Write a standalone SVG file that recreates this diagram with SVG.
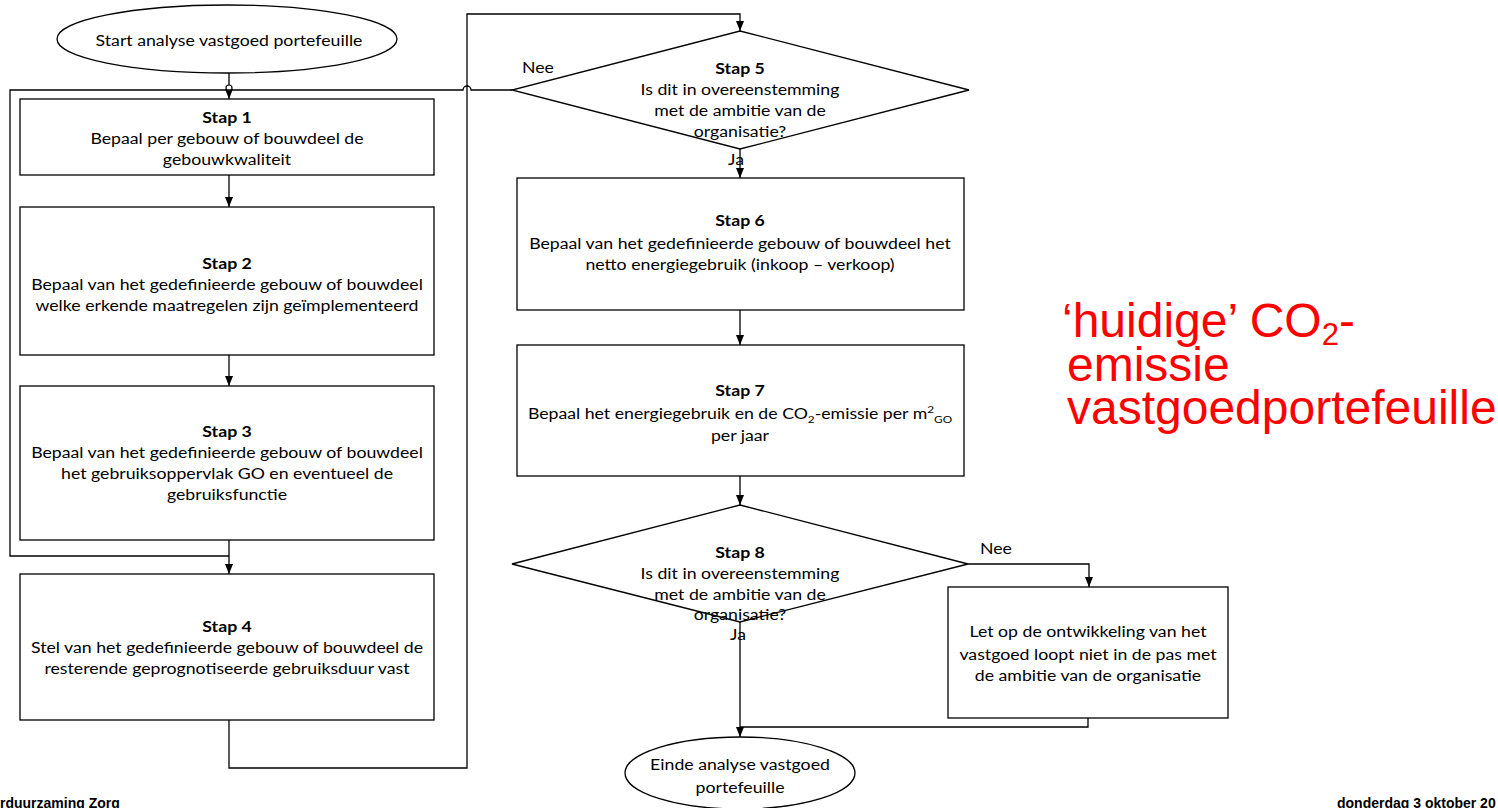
<svg xmlns="http://www.w3.org/2000/svg" width="1498" height="808" viewBox="0 0 1498 808">
<defs>
<marker id="arr" viewBox="0 0 10 10" refX="10" refY="5" markerWidth="10" markerHeight="10" markerUnits="userSpaceOnUse" orient="auto">
<path d="M0,1 L10,5 L0,9 Z" fill="#000"/>
</marker>
<style>
.shape{fill:#fff;stroke:#000;stroke-width:1.3}
.conn{fill:none;stroke:#000;stroke-width:1.3}
.t{font-family:Lato,"Open Sans",sans-serif;font-size:15px;fill:#000;text-anchor:middle}
.b{font-weight:bold}
.red{font-family:"Liberation Sans",Arial,sans-serif;font-size:48px;fill:#ff0000}
.foot{font-family:"Liberation Sans",Arial,sans-serif;font-size:14px;font-weight:bold;fill:#000}
</style>
</defs>
<rect width="1498" height="808" fill="#fff"/>

<g id="connectors">
<path class="conn" d="M229,73 V99" marker-end="url(#arr)"/>
<circle cx="229" cy="88" r="3" fill="#fff" stroke="#000" stroke-width="1.2"/>
<path class="conn" d="M229,175 V207" marker-end="url(#arr)"/>
<path class="conn" d="M229,355 V386" marker-end="url(#arr)"/>
<path class="conn" d="M229,540 V574" marker-end="url(#arr)"/>
<path class="conn" d="M229,720 V768 H467 V14 H740 V31" marker-end="url(#arr)"/>
<path class="conn" d="M512,90 H471 A4,4 0 0 0 463,90 H10 V556 H229"/>
<path class="conn" d="M740,149 V178" marker-end="url(#arr)"/>
<path class="conn" d="M740,310 V345" marker-end="url(#arr)"/>
<path class="conn" d="M740,476 V505" marker-end="url(#arr)"/>
<path class="conn" d="M968,564 H1089 V587" marker-end="url(#arr)"/>
<path class="conn" d="M740,622 V737" marker-end="url(#arr)"/>
<path class="conn" d="M1088,718 V727 H740"/>
<g transform="translate(538,0) scale(1.18,1)"><text class="t" x="0" y="73">Nee</text></g>
<g transform="translate(736,0) scale(1.18,1)"><text class="t" x="0" y="165">Ja</text></g>
<g transform="translate(996,0) scale(1.18,1)"><text class="t" x="0" y="554">Nee</text></g>
<g transform="translate(738,0) scale(1.18,1)"><text class="t" x="0" y="640">Ja</text></g>
</g>

<g id="start">
<ellipse class="shape" cx="227" cy="39" rx="170" ry="34"/>
<g transform="translate(229,0) scale(1.18,1)"><text class="t" x="0" y="46">Start analyse vastgoed portefeuille</text></g>
</g>

<g id="stap1">
<rect class="shape" x="20" y="99" width="414" height="76"/>
<g transform="translate(227,0) scale(1.18,1)">
<text class="t b" x="0" y="123">Stap 1</text>
<text class="t" x="0" y="144">Bepaal per gebouw of bouwdeel de</text>
<text class="t" x="0" y="165">gebouwkwaliteit</text>
</g>
</g>

<g id="stap2">
<rect class="shape" x="20" y="207" width="414" height="148"/>
<g transform="translate(227,0) scale(1.18,1)">
<text class="t b" x="0" y="269">Stap 2</text>
<text class="t" x="0" y="290">Bepaal van het gedefinieerde gebouw of bouwdeel</text>
<text class="t" x="0" y="311">welke erkende maatregelen zijn geïmplementeerd</text>
</g>
</g>

<g id="stap3">
<rect class="shape" x="20" y="386" width="414" height="154"/>
<g transform="translate(227,0) scale(1.18,1)">
<text class="t b" x="0" y="437">Stap 3</text>
<text class="t" x="0" y="458">Bepaal van het gedefinieerde gebouw of bouwdeel</text>
<text class="t" x="0" y="479">het gebruiksoppervlak GO en eventueel de</text>
<text class="t" x="0" y="500">gebruiksfunctie</text>
</g>
</g>

<g id="stap4">
<rect class="shape" x="20" y="574" width="414" height="146"/>
<g transform="translate(227,0) scale(1.18,1)">
<text class="t b" x="0" y="632">Stap 4</text>
<text class="t" x="0" y="653">Stel van het gedefinieerde gebouw of bouwdeel de</text>
<text class="t" x="0" y="674">resterende geprognotiseerde gebruiksduur vast</text>
</g>
</g>

<g id="stap5">
<path class="shape" d="M740,31 L969,90 L740,149 L512,90 Z"/>
<g transform="translate(740,0) scale(1.18,1)">
<text class="t b" x="0" y="74">Stap 5</text>
<text class="t" x="0" y="95">Is dit in overeenstemming</text>
<text class="t" x="0" y="116">met de ambitie van de</text>
<text class="t" x="0" y="137">organisatie?</text>
</g>
</g>

<g id="stap6">
<rect class="shape" x="517" y="178" width="447" height="132"/>
<g transform="translate(740,0) scale(1.18,1)">
<text class="t b" x="0" y="226">Stap 6</text>
<text class="t" x="0" y="249">Bepaal van het gedefinieerde gebouw of bouwdeel het</text>
<text class="t" x="0" y="270">netto energiegebruik (inkoop – verkoop)</text>
</g>
</g>

<g id="stap7">
<rect class="shape" x="517" y="345" width="447" height="131"/>
<g transform="translate(740,0) scale(1.18,1)">
<text class="t b" x="0" y="396">Stap 7</text>
<text class="t" x="0" y="419">Bepaal het energiegebruik en de CO<tspan font-size="10" dy="4">2</tspan><tspan dy="-4">-emissie per m</tspan><tspan font-size="10" dy="-6">2</tspan><tspan font-size="10" dy="10">GO</tspan></text>
<text class="t" x="0" y="441">per jaar</text>
</g>
</g>

<g id="stap8">
<path class="shape" d="M740,505 L968,564 L740,622 L512,564 Z"/>
<g transform="translate(740,0) scale(1.18,1)">
<text class="t b" x="0" y="558">Stap 8</text>
<text class="t" x="0" y="579">Is dit in overeenstemming</text>
<text class="t" x="0" y="600">met de ambitie van de</text>
<text class="t" x="0" y="620">organisatie?</text>
</g>
</g>

<g id="letop">
<rect class="shape" x="948" y="587" width="280" height="131"/>
<g transform="translate(1088,0) scale(1.18,1)">
<text class="t" x="0" y="637">Let op de ontwikkeling van het</text>
<text class="t" x="0" y="660">vastgoed loopt niet in de pas met</text>
<text class="t" x="0" y="681">de ambitie van de organisatie</text>
</g>
</g>

<g id="einde">
<ellipse class="shape" cx="740" cy="773" rx="115" ry="36"/>
<g transform="translate(740,0) scale(1.18,1)">
<text class="t" x="0" y="770">Einde analyse vastgoed</text>
<text class="t" x="0" y="793">portefeuille</text>
</g>
</g>

<g id="annotation">
<text class="red" x="1062" y="337">‘huidige’ CO<tspan font-size="31" dy="8">2</tspan><tspan dy="-8">-</tspan></text>
<text class="red" x="1067" y="381">emissie</text>
<text class="red" x="1067" y="424">vastgoedportefeuille</text>
</g>

<g id="footer">
<text class="foot" x="0" y="808">rduurzaming Zorg</text>
<text class="foot" x="1337" y="808">donderdag 3 oktober 20</text>
</g>
</svg>
